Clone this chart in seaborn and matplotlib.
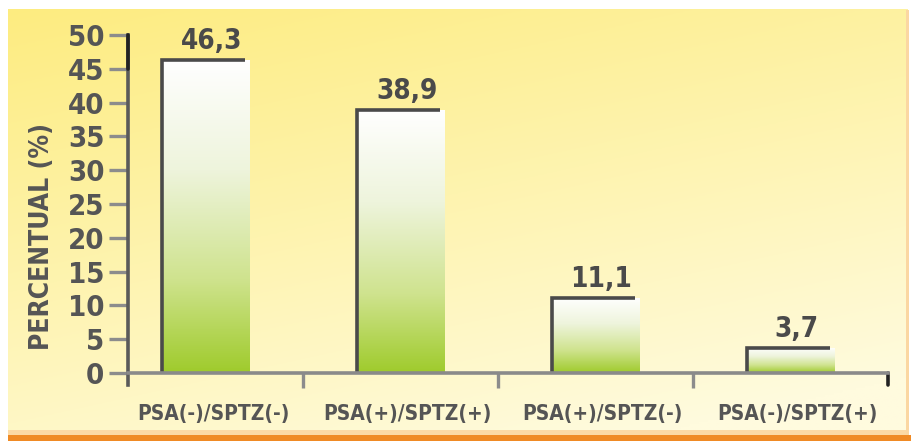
import numpy as np
import pandas as pd
import matplotlib
matplotlib.use("Agg")
import matplotlib.pyplot as plt
import seaborn as sns
from matplotlib.colors import LinearSegmentedColormap
from matplotlib.patches import Rectangle
from matplotlib.transforms import ScaledTranslation

categories = ["PSA(-)/SPTZ(-)", "PSA(+)/SPTZ(+)", "PSA(+)/SPTZ(-)", "PSA(-)/SPTZ(+)"]
values = [46.3, 38.9, 11.1, 3.7]
value_labels = ["46,3", "38,9", "11,1", "3,7"]
y_ticks = [0, 5, 10, 15, 20, 25, 30, 35, 40, 45, 50]
y_label = "PERCENTUAL (%)"

sns.set_theme(style="white")
FONT = ["DejaVu Sans", "Liberation Sans"]
plt.rcParams["font.family"] = FONT
plt.rcParams["font.stretch"] = "condensed"
TXT = "#555555"
ST = "condensed"

W, H = 911, 444
fig = plt.figure(figsize=(W / 100, H / 100), dpi=100)
fig.patch.set_facecolor("white")

# background panel gradient
bg = fig.add_axes([0, 0, 1, 1])
bg.set_xlim(0, W)
bg.set_ylim(H, 0)
bg.axis("off")
yy, xx = np.mgrid[0:1:200j, 0:1:200j]
t = np.clip(0.75 * yy + 0.35 * xx, 0, 1)
c_top = np.array([253, 236, 128]) / 255
c_bot = np.array([255, 251, 222]) / 255
img = c_top[None, None, :] * (1 - t[..., None]) + c_bot[None, None, :] * t[..., None]
bg.imshow(img, extent=(8, 908, 434, 10), aspect="auto", zorder=0)
bg.add_patch(Rectangle((8, 430), 900, 5, color="#fcd9a4", zorder=1, lw=0))
bg.add_patch(Rectangle((8, 435), 903, 6, color="#f08a24", zorder=1, lw=0))
bg.add_patch(Rectangle((906, 10), 3, 425, color="#fbd7a2", zorder=1, lw=0))

# main axes
x0, x1, yb, yt = 128, 888, 373, 35
ax = fig.add_axes([x0 / W, (H - yb) / H, (x1 - x0) / W, (yb - yt) / H])
ax.patch.set_alpha(0)

df = pd.DataFrame({"cat": categories, "val": values})
sns.barplot(data=df, x="cat", y="val", ax=ax, width=0.45, color="#a6cf3c",
            saturation=1, edgecolor="none", linewidth=0, zorder=2)
ax.set_xlim(-0.4, 3.5)
ax.set_ylim(0, 50)

# gradient fill for bars (white at top -> green at bottom)
cmap = LinearSegmentedColormap.from_list(
    "g", [(0, "#ffffff"), (0.35, "#eef4dc"), (0.7, "#cfe38e"), (1.0, "#9fcb2c")])
grad = np.linspace(0, 1, 256)[:, None]
for p in ax.patches:
    bx, by = p.get_x(), p.get_y()
    bw, bh = p.get_width(), p.get_height()
    im = ax.imshow(grad, cmap=cmap, extent=(bx, bx + bw, by, by + bh),
                   aspect="auto", zorder=2, origin="upper")
    im.set_clip_path(p)
    p.set_facecolor("none")
    ax.plot([bx, bx, bx + bw * 0.95], [by, by + bh, by + bh], color="#4a4a4a",
            lw=2.6, solid_capstyle="butt", solid_joinstyle="miter", zorder=3)

for p, lab in zip(ax.patches, value_labels):
    cx = p.get_x() + p.get_width() / 2 + 0.03
    ax.text(cx, p.get_height() + 0.8, lab, ha="center", va="bottom",
            fontsize=20, fontweight="bold", color="#4a4a4a", family=FONT, stretch=ST)

# axes styling
for s in ["top", "right"]:
    ax.spines[s].set_visible(False)
ax.spines["left"].set_color("#5a5a5a")
ax.spines["left"].set_linewidth(2.6)
ax.spines["left"].set_bounds(-1.8, 50)
ax.spines["bottom"].set_color("#8a8a8a")
ax.spines["bottom"].set_linewidth(2.6)
ax.spines["bottom"].set_bounds(-0.4, 3.5)
ax.spines["bottom"].set_zorder(4)

ax.set_yticks(y_ticks)
ax.set_yticklabels([str(v) for v in y_ticks], fontsize=21, fontweight="bold",
                   color=TXT, family=FONT, stretch=ST)
ax.tick_params(axis="y", direction="out", length=14, width=2.4, color="#8c8c8c",
               pad=3, left=True)

ax.set_xticks([0, 1, 2, 3])
ax.set_xticklabels(categories, fontsize=15, fontweight="bold", color=TXT,
                   family=FONT, stretch=ST)
ax.set_xticks([0.5, 1.5, 2.5], minor=True)
ax.tick_params(axis="x", which="major", length=0, pad=22)
ax.tick_params(axis="x", which="minor", direction="out", length=11, width=2.4,
               color="#8c8c8c", bottom=True)
ax.plot([3.5, 3.5], [0, -1.8], color="#222222", lw=2.6, clip_on=False, zorder=4)
ax.plot([-0.4, -0.4], [45, 50], color="#222222", lw=2.6, clip_on=False, zorder=5)

for lbl in ax.get_xticklabels():
    lbl.set_transform(lbl.get_transform() + ScaledTranslation(0.07, 0, fig.dpi_scale_trans))

ax.set_xlabel("")
ax.set_ylabel(y_label, fontsize=19, fontweight="bold", color=TXT, family=FONT,
              stretch=ST, labelpad=10)
ax.yaxis.set_label_coords(-0.096, 0.405)

fig.savefig("out.png", dpi=100)
